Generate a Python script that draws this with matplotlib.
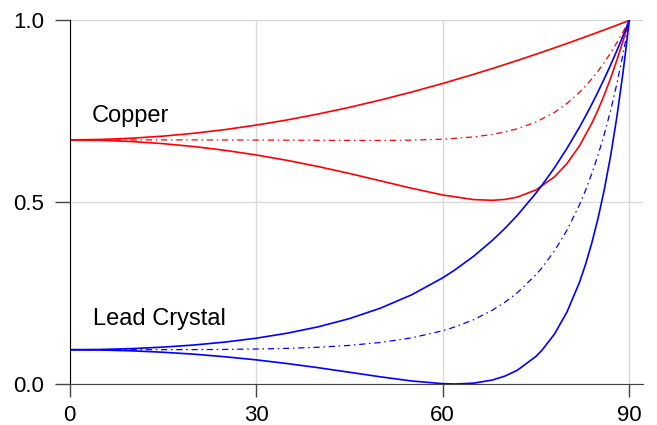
import matplotlib
matplotlib.use("Agg")
import matplotlib.pyplot as plt

plt.rcParams['font.family'] = ['Liberation Sans', 'DejaVu Sans']

# angle of incidence (degrees) and reflectance
cu_angle = [0, 5, 10, 15, 20, 25, 30, 35, 40, 45, 50, 55, 60, 65, 68, 70, 72, 75, 78, 80,
            82, 84, 85, 86, 87, 88, 89, 89.5, 90]
cu_s = [0.6715, 0.6727, 0.6761, 0.6818, 0.6897, 0.6998, 0.7121, 0.7264, 0.7428, 0.7610, 0.7812,
        0.8031, 0.8267, 0.8520, 0.8679, 0.8788, 0.8900, 0.9071, 0.9248, 0.9368, 0.9491, 0.9615,
        0.9678, 0.9742, 0.9806, 0.9870, 0.9935, 0.9967, 1.0]
cu_p = [0.6715, 0.6704, 0.6670, 0.6612, 0.6532, 0.6428, 0.6301, 0.6152, 0.5981, 0.5792, 0.5589,
        0.5385, 0.5200, 0.5073, 0.5053, 0.5077, 0.5141, 0.5338, 0.5701, 0.6065, 0.6550, 0.7174,
        0.7544, 0.7954, 0.8405, 0.8897, 0.9430, 0.9710, 1.0]
cu_avg = [0.6715, 0.6716, 0.6715, 0.6715, 0.6715, 0.6713, 0.6711, 0.6708, 0.6704, 0.6701, 0.6701,
          0.6708, 0.6734, 0.6797, 0.6866, 0.6933, 0.7020, 0.7205, 0.7475, 0.7717, 0.8020, 0.8395,
          0.8611, 0.8848, 0.9105, 0.9384, 0.9682, 0.9839, 1.0]

pb_angle = [0, 5, 10, 15, 20, 25, 30, 35, 40, 45, 50, 55, 60, 62, 65, 68, 70, 72, 75, 76, 78, 80,
            82, 83, 84, 85, 86, 87, 88, 89, 89.5, 90]
pb_s = [0.0943, 0.0950, 0.0973, 0.1014, 0.1072, 0.1153, 0.1259, 0.1397, 0.1573, 0.1798, 0.2086,
        0.2452, 0.2919, 0.3141, 0.3516, 0.3951, 0.4278, 0.4638, 0.5249, 0.5472, 0.5953, 0.6483,
        0.7063, 0.7375, 0.7701, 0.8042, 0.8398, 0.8773, 0.9164, 0.9573, 0.9784, 1.0]
pb_p = [0.0943, 0.0935, 0.0912, 0.0874, 0.0820, 0.0749, 0.0664, 0.0562, 0.0448, 0.0323, 0.0197,
        0.0083, 0.0009, 0.0, 0.0023, 0.0109, 0.0216, 0.0377, 0.0758, 0.0933, 0.1378, 0.1982,
        0.2793, 0.3300, 0.3887, 0.4565, 0.5350, 0.6265, 0.7327, 0.8561, 0.9253, 1.0]
pb_avg = [0.0943, 0.0943, 0.0943, 0.0944, 0.0946, 0.0951, 0.0962, 0.0980, 0.1011, 0.1061, 0.1142,
          0.1268, 0.1464, 0.1571, 0.1769, 0.2030, 0.2247, 0.2508, 0.3004, 0.3203, 0.3666, 0.4233,
          0.4928, 0.5337, 0.5794, 0.6303, 0.6874, 0.7519, 0.8246, 0.9067, 0.9519, 1.0]

fig = plt.figure(figsize=(6.57, 4.25), dpi=100)
ax = fig.add_axes([0.1058, 0.0965, 0.8727, 0.8553])

dashdot = (0, (5, 3, 1.2, 3))
ax.plot(cu_angle, cu_s, color='#ff0000', lw=1.2)
ax.plot(cu_angle, cu_p, color='#ff0000', lw=1.2)
ax.plot(cu_angle, cu_avg, color='#ff0000', lw=0.9, linestyle=dashdot)
ax.plot(pb_angle, pb_s, color='#0000ff', lw=1.2)
ax.plot(pb_angle, pb_p, color='#0000ff', lw=1.2)
ax.plot(pb_angle, pb_avg, color='#0000ff', lw=0.9, linestyle=dashdot)

ax.text(3.6, 0.72, 'Copper', fontsize=17, ha='left', va='baseline')
ax.text(3.8, 0.162, 'Lead Crystal', fontsize=17, ha='left', va='baseline')

ax.set_xlim(0, 92.2)
ax.set_ylim(0, 1.0)
ax.set_xticks([0, 30, 60, 90])
ax.set_yticks([0.0, 0.5, 1.0])
ax.set_yticklabels(['0.0', '0.5', '1.0'])
ax.grid(True, color='#d9d9d9', lw=1)
ax.set_axisbelow(True)

ax.spines['top'].set_visible(False)
ax.spines['right'].set_visible(False)
ax.spines['left'].set_color('black')
ax.spines['bottom'].set_color('#444444')
ax.tick_params(axis='x', length=9, width=1, color='#444444', pad=6, labelsize=16)
ax.tick_params(axis='y', length=10.5, width=1, color='#444444', pad=8, labelsize=16)

fig.savefig('out.png', dpi=100)
